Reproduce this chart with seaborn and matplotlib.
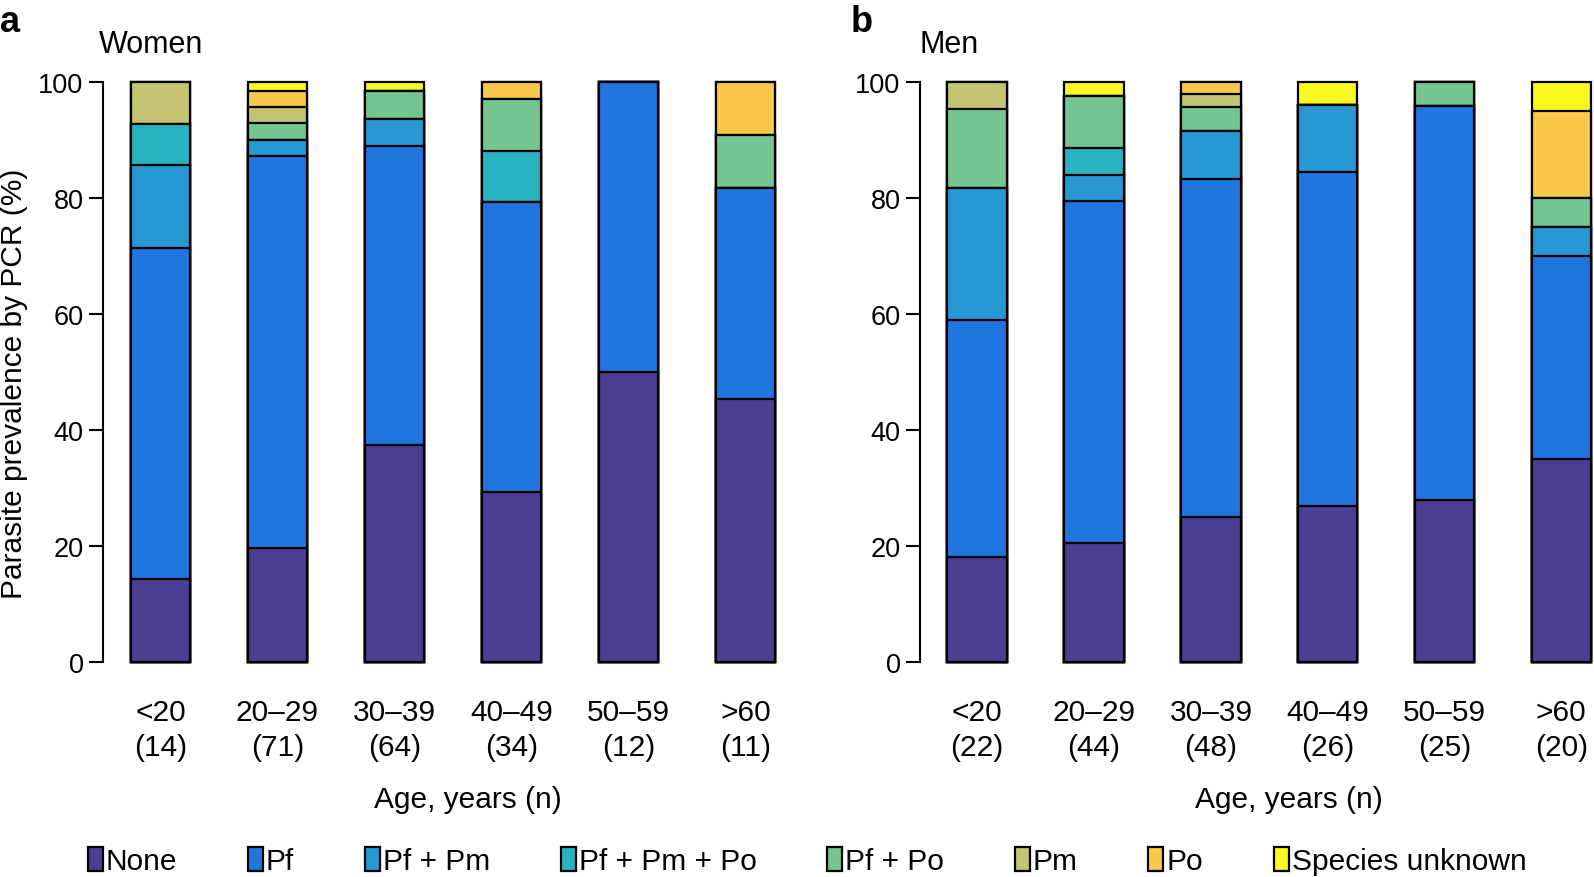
import matplotlib
matplotlib.use("Agg")
import pandas as pd
import seaborn as sns
import matplotlib.pyplot as plt
from matplotlib.patches import Patch

ages = ['<20', '20–29', '30–39', '40–49', '50–59', '>60']
women_n = [14, 71, 64, 34, 12, 11]
men_n = [22, 44, 48, 26, 25, 20]

categories = ['None', 'Pf', 'Pf + Pm', 'Pf + Pm + Po', 'Pf + Po', 'Pm', 'Po', 'Species unknown']
colors = ['#4a3f93', '#2075de', '#2898d5', '#27b4c0', '#74c590', '#c4c372', '#fbc74a', '#f9f921']

# number of people per infection type, per age group
women_none = [2, 14, 24, 10, 6, 5]
women_pf = [8, 48, 33, 17, 6, 4]
women_pf_pm = [2, 2, 3, 0, 0, 0]
women_pf_pm_po = [1, 0, 0, 3, 0, 0]
women_pf_po = [0, 2, 3, 3, 0, 1]
women_pm = [1, 2, 0, 0, 0, 0]
women_po = [0, 2, 0, 1, 0, 1]
women_unknown = [0, 1, 1, 0, 0, 0]

men_none = [4, 9, 12, 7, 7, 7]
men_pf = [9, 26, 28, 15, 17, 7]
men_pf_pm = [5, 2, 4, 3, 0, 1]
men_pf_pm_po = [0, 2, 0, 0, 0, 0]
men_pf_po = [3, 4, 2, 0, 1, 1]
men_pm = [1, 0, 1, 0, 0, 0]
men_po = [0, 0, 1, 0, 0, 3]
men_unknown = [0, 1, 0, 1, 0, 1]

women = [women_none, women_pf, women_pf_pm, women_pf_pm_po, women_pf_po, women_pm, women_po, women_unknown]
men = [men_none, men_pf, men_pf_pm, men_pf_pm_po, men_pf_po, men_pm, men_po, men_unknown]

sns.set_theme(style='white')
plt.rcParams['font.family'] = ['Liberation Sans', 'DejaVu Sans']
plt.rcParams.update({'text.color': 'black', 'axes.labelcolor': 'black',
                     'xtick.color': 'black', 'ytick.color': 'black'})
FS = 21.5
YFS = 19.5


def draw_panel(ax, counts, n, xlabel_x):
    df = pd.DataFrame({c: v for c, v in zip(categories, counts)}, index=ages)
    pct = df.div(n, axis=0) * 100
    cum = pct.cumsum(axis=1)
    # draw from the top layer down so lower segments sit on top
    for cat, col in reversed(list(zip(categories, colors))):
        sns.barplot(x=ages, y=cum[cat].values, order=ages, color=col, saturation=1,
                    width=0.51, edgecolor='black', linewidth=1.6, errorbar=None, ax=ax)
    for p in ax.patches:
        p.set_clip_on(False)
    ax.set_ylim(0, 100)
    ax.set_yticks([0, 20, 40, 60, 80, 100])
    ax.set_xticks(range(len(ages)))
    ax.set_xticklabels([f'{a}\n({k})' for a, k in zip(ages, n)], fontsize=FS, linespacing=1.32)
    ax.tick_params(axis='x', length=0, pad=26)
    ax.tick_params(axis='y', length=10, width=1.5, labelsize=YFS, pad=4, left=True, direction='out')
    for s in ['top', 'right', 'bottom']:
        ax.spines[s].set_visible(False)
    ax.spines['left'].set_linewidth(1.5)
    ax.spines['left'].set_color('black')
    ax.spines['left'].set_bounds(0, 100)
    ax.set_xlabel('Age, years (n)', fontsize=FS)
    ax.xaxis.set_label_coords(xlabel_x, -0.212)
    ax.set_ylabel('')


fig = plt.figure(figsize=(15.94, 8.78), dpi=100)
W, H = 1594, 878
bottom = 1 - 663 / H
height = (663 - 83.4) / H
ax1 = fig.add_axes([103 / W, bottom, 700 / W, height])
ax2 = fig.add_axes([920 / W, bottom, 674 / W, height])

draw_panel(ax1, women, women_n, 0.521)
draw_panel(ax2, men, men_n, 0.547)
ax1.set_xlim(-0.49, 5.49)
ax2.set_xlim(-0.49, 5.28)

ax1.set_ylabel('Parasite prevalence by PCR (%)', fontsize=FS)
ax1.yaxis.set_label_coords(-0.107, 0.481)

fig.text(99 / W, 1 - 45 / H, 'Women', fontsize=22, va='center', ha='left')
fig.text(920 / W, 1 - 45 / H, 'Men', fontsize=22, va='center', ha='left')
fig.text(0.0, 1 - 22 / H, 'a', fontsize=26, fontweight='bold', va='center', ha='left')
fig.text(851 / W, 1 - 22 / H, 'b', fontsize=26, fontweight='bold', va='center', ha='left')

handles = [Patch(facecolor=c, edgecolor='black', linewidth=1.6) for c in colors]
fig.legend(handles, categories, loc='center', bbox_to_anchor=(807 / W, 1 - 862 / H), ncol=8,
           frameon=False, fontsize=FS, handlelength=0.5, handleheight=0.85,
           handletextpad=0.1, columnspacing=2.37, borderaxespad=0, borderpad=0)

fig.savefig('out.png', dpi=100)
